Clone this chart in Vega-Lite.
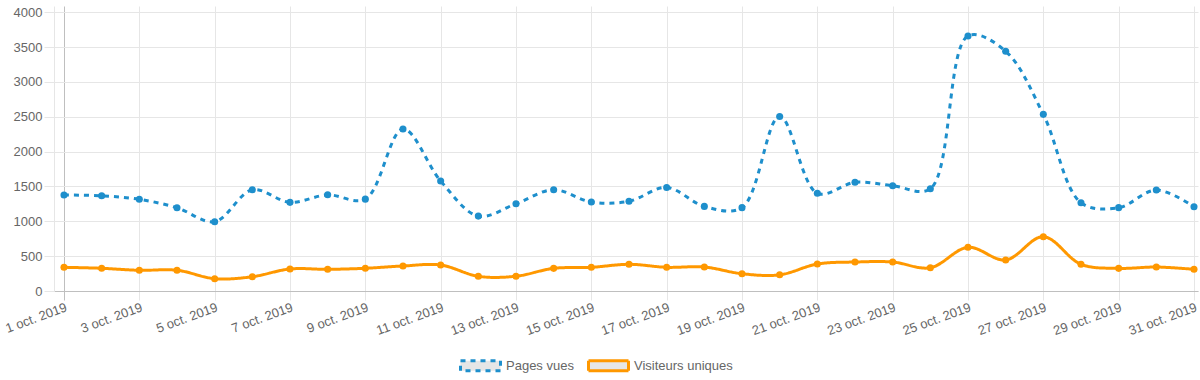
{
  "$schema": "https://vega.github.io/schema/vega-lite/v6.json",
  "autosize": "none",
  "width": 1144,
  "height": 285,
  "padding": {"left": 54, "top": 6, "right": 2, "bottom": 89},
  "background": "white",
  "config": {"view": {"stroke": null}, "font": "Liberation Sans"},
  "data": {"values": [
    {"date": "2019-10-01", "serie": "Pages vues", "value": 1378},
    {"date": "2019-10-02", "serie": "Pages vues", "value": 1366},
    {"date": "2019-10-03", "serie": "Pages vues", "value": 1316},
    {"date": "2019-10-04", "serie": "Pages vues", "value": 1195},
    {"date": "2019-10-05", "serie": "Pages vues", "value": 995},
    {"date": "2019-10-06", "serie": "Pages vues", "value": 1452},
    {"date": "2019-10-07", "serie": "Pages vues", "value": 1272},
    {"date": "2019-10-08", "serie": "Pages vues", "value": 1380},
    {"date": "2019-10-09", "serie": "Pages vues", "value": 1318},
    {"date": "2019-10-10", "serie": "Pages vues", "value": 2324},
    {"date": "2019-10-11", "serie": "Pages vues", "value": 1578},
    {"date": "2019-10-12", "serie": "Pages vues", "value": 1075},
    {"date": "2019-10-13", "serie": "Pages vues", "value": 1252},
    {"date": "2019-10-14", "serie": "Pages vues", "value": 1453},
    {"date": "2019-10-15", "serie": "Pages vues", "value": 1276},
    {"date": "2019-10-16", "serie": "Pages vues", "value": 1287},
    {"date": "2019-10-17", "serie": "Pages vues", "value": 1486},
    {"date": "2019-10-18", "serie": "Pages vues", "value": 1214},
    {"date": "2019-10-19", "serie": "Pages vues", "value": 1196},
    {"date": "2019-10-20", "serie": "Pages vues", "value": 2505},
    {"date": "2019-10-21", "serie": "Pages vues", "value": 1402},
    {"date": "2019-10-22", "serie": "Pages vues", "value": 1560},
    {"date": "2019-10-23", "serie": "Pages vues", "value": 1511},
    {"date": "2019-10-24", "serie": "Pages vues", "value": 1468},
    {"date": "2019-10-25", "serie": "Pages vues", "value": 3660},
    {"date": "2019-10-26", "serie": "Pages vues", "value": 3440},
    {"date": "2019-10-27", "serie": "Pages vues", "value": 2535},
    {"date": "2019-10-28", "serie": "Pages vues", "value": 1267},
    {"date": "2019-10-29", "serie": "Pages vues", "value": 1196},
    {"date": "2019-10-30", "serie": "Pages vues", "value": 1449},
    {"date": "2019-10-31", "serie": "Pages vues", "value": 1209},
    {"date": "2019-10-01", "serie": "Visiteurs uniques", "value": 340},
    {"date": "2019-10-02", "serie": "Visiteurs uniques", "value": 326},
    {"date": "2019-10-03", "serie": "Visiteurs uniques", "value": 297},
    {"date": "2019-10-04", "serie": "Visiteurs uniques", "value": 298},
    {"date": "2019-10-05", "serie": "Visiteurs uniques", "value": 177},
    {"date": "2019-10-06", "serie": "Visiteurs uniques", "value": 205},
    {"date": "2019-10-07", "serie": "Visiteurs uniques", "value": 316},
    {"date": "2019-10-08", "serie": "Visiteurs uniques", "value": 311},
    {"date": "2019-10-09", "serie": "Visiteurs uniques", "value": 326},
    {"date": "2019-10-10", "serie": "Visiteurs uniques", "value": 359},
    {"date": "2019-10-11", "serie": "Visiteurs uniques", "value": 373},
    {"date": "2019-10-12", "serie": "Visiteurs uniques", "value": 211},
    {"date": "2019-10-13", "serie": "Visiteurs uniques", "value": 212},
    {"date": "2019-10-14", "serie": "Visiteurs uniques", "value": 325},
    {"date": "2019-10-15", "serie": "Visiteurs uniques", "value": 340},
    {"date": "2019-10-16", "serie": "Visiteurs uniques", "value": 383},
    {"date": "2019-10-17", "serie": "Visiteurs uniques", "value": 340},
    {"date": "2019-10-18", "serie": "Visiteurs uniques", "value": 344},
    {"date": "2019-10-19", "serie": "Visiteurs uniques", "value": 248},
    {"date": "2019-10-20", "serie": "Visiteurs uniques", "value": 232},
    {"date": "2019-10-21", "serie": "Visiteurs uniques", "value": 387},
    {"date": "2019-10-22", "serie": "Visiteurs uniques", "value": 416},
    {"date": "2019-10-23", "serie": "Visiteurs uniques", "value": 416},
    {"date": "2019-10-24", "serie": "Visiteurs uniques", "value": 334},
    {"date": "2019-10-25", "serie": "Visiteurs uniques", "value": 627},
    {"date": "2019-10-26", "serie": "Visiteurs uniques", "value": 445},
    {"date": "2019-10-27", "serie": "Visiteurs uniques", "value": 779},
    {"date": "2019-10-28", "serie": "Visiteurs uniques", "value": 383},
    {"date": "2019-10-29", "serie": "Visiteurs uniques", "value": 325},
    {"date": "2019-10-30", "serie": "Visiteurs uniques", "value": 344},
    {"date": "2019-10-31", "serie": "Visiteurs uniques", "value": 311}
  ]},
  "encoding": {
    "x": {
      "field": "date", "type": "temporal",
      "scale": {"type": "utc", "domain": [
        {"year": 2019, "month": "sep", "date": 30, "hours": 17, "minutes": 38, "utc": true},
        {"year": 2019, "month": "oct", "date": 31, "hours": 2, "minutes": 33, "utc": true}
      ]},
      "axis": {
        "title": null,
        "tickCount": {"interval": "day", "step": 2},
        "format": "%-d oct. %Y",
        "labelAngle": -20, "labelAlign": "right", "labelBaseline": "top",
        "labelFlush": false, "labelOverlap": false, "labelBound": false,
        "tickSize": 9, "labelPadding": 1,
        "gridColor": {"condition": {"test": "datum.index === 0", "value": "#bfbfbf"}, "value": "#e6e6e6"},
        "tickColor": {"condition": {"test": "datum.index === 0", "value": "#bfbfbf"}, "value": "#e6e6e6"},
        "domainColor": "#bfbfbf",
        "labelColor": "#666666", "labelFontSize": 13, "labelFont": "Liberation Sans"
      }
    },
    "y": {
      "field": "value", "type": "quantitative",
      "scale": {"domain": [0, 4090], "nice": false, "zero": true},
      "axis": {
        "title": null, "format": "d",
        "values": [0, 500, 1000, 1500, 2000, 2500, 3000, 3500, 4000],
        "tickSize": 10, "labelPadding": 2,
        "gridColor": "#e6e6e6", "tickColor": "#e6e6e6", "domainColor": "#e6e6e6",
        "labelColor": "#666666", "labelFontSize": 13, "labelFont": "Liberation Sans"
      }
    }
  },
  "layer": [
    {
      "mark": {"type": "line", "interpolate": "catmull-rom", "strokeWidth": 3},
      "encoding": {
        "color": {
          "field": "serie", "type": "nominal",
          "scale": {"domain": ["Pages vues", "Visiteurs uniques"], "range": ["#1e8fcc", "#ff9800"]},
          "legend": {
            "title": null, "orient": "none", "direction": "horizontal",
            "legendX": 405, "legendY": 338, "padding": 0,
            "symbolType": "M-1,-0.25H1V0.25H-1Z", "symbolSize": 1600, "symbolStrokeWidth": 3,
            "symbolFillColor": "#e6e6e6", "symbolOpacity": 1,
            "labelOffset": 4, "columnPadding": 8,
            "labelColor": "#666666", "labelFontSize": 13, "labelFont": "Liberation Sans"
          }
        },
        "strokeDash": {
          "field": "serie", "type": "nominal",
          "scale": {"domain": ["Pages vues", "Visiteurs uniques"], "range": [[5, 5], [1, 0]]},
          "legend": {
            "title": null, "orient": "none", "direction": "horizontal",
            "legendX": 405, "legendY": 338, "padding": 0,
            "symbolType": "M-1,-0.25H1V0.25H-1Z", "symbolSize": 1600, "symbolStrokeWidth": 3,
            "symbolFillColor": "#e6e6e6", "symbolOpacity": 1,
            "labelOffset": 4, "columnPadding": 8,
            "labelColor": "#666666", "labelFontSize": 13, "labelFont": "Liberation Sans"
          }
        }
      }
    },
    {
      "mark": {"type": "point", "filled": true, "size": 50, "opacity": 1},
      "encoding": {
        "fill": {
          "field": "serie", "type": "nominal",
          "scale": {"domain": ["Visiteurs uniques", "Pages vues"], "range": ["#ff9800", "#1e8fcc"]},
          "legend": null
        }
      }
    }
  ]
}
